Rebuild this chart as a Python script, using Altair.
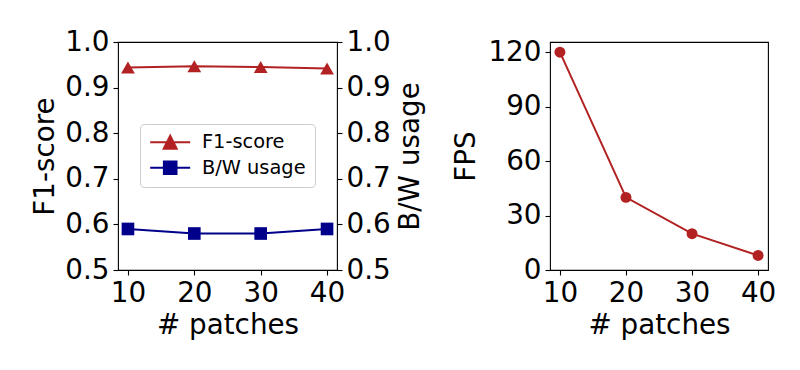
import altair as alt
import pandas as pd

patches = [10, 20, 30, 40]
f1_score = [0.944, 0.947, 0.945, 0.942]
bw_usage = [0.59, 0.58, 0.58, 0.59]
fps = [120, 40, 20, 8]
series_names = ["F1-score", "B/W usage"]
series_colors = ["#b22222", "#00008b"]
left_ticks = [0.5, 0.6, 0.7, 0.8, 0.9, 1.0]
fps_ticks = [0, 30, 60, 90, 120]

FONT = "DejaVu Sans"
FS = 27.8

f1_df = pd.DataFrame({"patches": patches, "value": f1_score, "series": series_names[0]})
bw_df = pd.DataFrame({"patches": patches, "value": bw_usage, "series": series_names[1]})
fps_df = pd.DataFrame({"patches": patches, "fps": fps})

x_enc = alt.X("patches:Q",
              scale=alt.Scale(domain=[8.5, 41.5], nice=False, zero=False),
              axis=alt.Axis(values=patches, title="# patches", titlePadding=5))

tri = "M-2.857,0L2.857,0M0,-0.93L0.93,0.93L-0.93,0.93Z"
sq = "M-2.857,0L2.857,0M-0.9,-0.9L0.9,-0.9L0.9,0.9L-0.9,0.9Z"
sel = "datum.value === 'F1-score'"
col_expr = f"{sel} ? '{series_colors[0]}' : '{series_colors[1]}'"
legend = alt.Legend(
    orient="none", legendX=22, legendY=82,
    fillColor="white", strokeColor="#cccccc", cornerRadius=4, padding=8.5,
    labelFontSize=19.4, labelFont=FONT, labelColor="black",
    symbolSize=196, symbolOffset=12, labelOffset=22, rowPadding=3.5,
    symbolType={"expr": f"{sel} ? '{tri}' : '{sq}'"},
    symbolFillColor={"expr": col_expr},
    symbolStrokeColor={"expr": col_expr},
    symbolStrokeWidth=2, symbolOpacity=1,
)
color_enc = alt.Color("series:N", title=None,
                      scale=alt.Scale(domain=series_names, range=series_colors),
                      legend=legend)

f1_layer = alt.Chart(f1_df).mark_line(
    strokeWidth=2,
    point=alt.OverlayMarkDef(shape="triangle-up", size=190, filled=True, opacity=1),
).encode(
    x=x_enc,
    y=alt.Y("value:Q", scale=alt.Scale(domain=[0.5, 1.0], nice=False, zero=False),
            axis=alt.Axis(values=left_ticks, format=".1f", title="F1-score", orient="left", titlePadding=5)),
    color=color_enc,
)

bw_layer = alt.Chart(bw_df).mark_line(
    strokeWidth=2,
    point=alt.OverlayMarkDef(shape="square", size=160, filled=True, opacity=1),
).encode(
    x=x_enc,
    y=alt.Y("value:Q", scale=alt.Scale(domain=[0.5, 1.0], nice=False, zero=False),
            axis=alt.Axis(values=left_ticks, format=".1f", title="B/W usage", orient="right",
                          titlePadding=6, titleAngle=270, titleBaseline="top")),
    color=color_enc,
)

left = alt.layer(f1_layer, bw_layer).resolve_scale(y="independent").properties(width=219, height=228)

right = alt.Chart(fps_df).mark_line(
    strokeWidth=2, color=series_colors[0],
    point=alt.OverlayMarkDef(shape="circle", size=120, filled=True, opacity=1, color=series_colors[0]),
).encode(
    x=x_enc,
    y=alt.Y("fps:Q", scale=alt.Scale(domain=[0, 125.6], nice=False, zero=False),
            axis=alt.Axis(values=fps_ticks, title="FPS", titlePadding=7)),
).properties(width=218, height=228)

chart = alt.hconcat(left, right, spacing=27).properties(
    padding={"top": 19, "left": 23, "right": 5, "bottom": 5},
    background="white",
).configure_view(
    stroke="black", strokeWidth=1.1,
).configure_axis(
    domain=False, grid=False,
    ticks=True, tickColor="black", tickSize=5, tickWidth=1.1,
    labelFont=FONT, labelFontSize=FS, labelColor="black", labelPadding=4,
    titleFont=FONT, titleFontSize=FS, titleFontWeight="normal", titleColor="black",
)

chart.save("out.html", embed_options={"renderer": "svg", "actions": False})
